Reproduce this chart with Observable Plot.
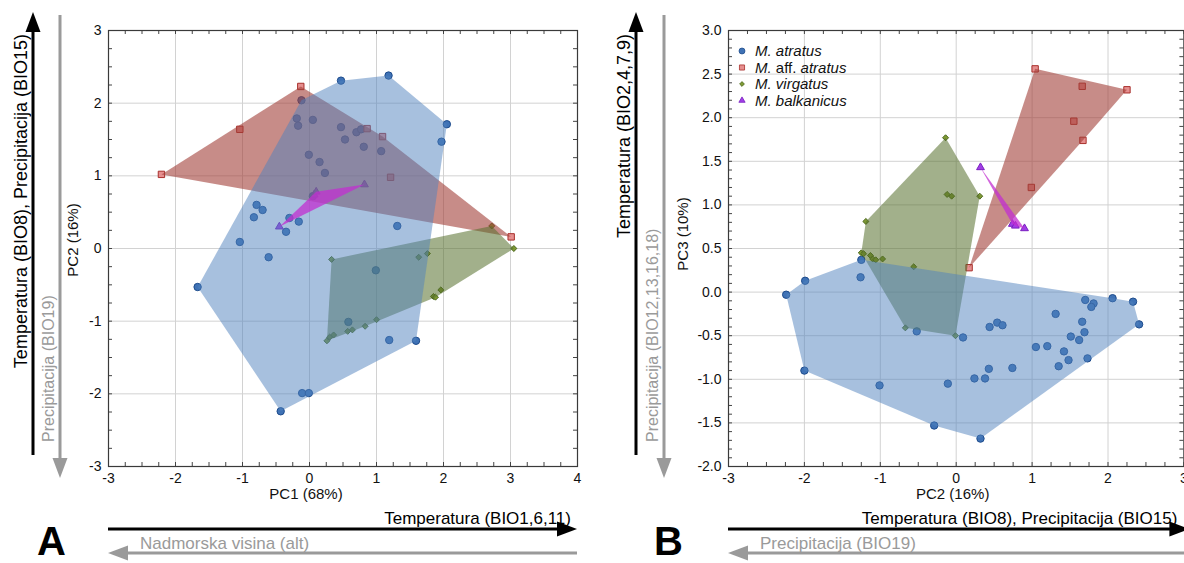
<!DOCTYPE html>
<html><head><meta charset="utf-8">
<script src="https://cdn.jsdelivr.net/npm/d3@7"></script>
<script src="https://cdn.jsdelivr.net/npm/@observablehq/plot@0.6"></script>
<style>
body{margin:0;background:#fff;overflow:hidden;font-family:"Liberation Sans",Arial,sans-serif}
#wrap{position:relative;width:1184px;height:563px;overflow:hidden;background:#fff}
#wrap > svg{position:absolute;top:0}
</style></head><body><div id="wrap"></div>
<script>
// ---------- data ----------
const speciesNames = ["M. atratus", "M. aff. atratus", "M. virgatus", "M. balkanicus"];

// Panel A: PC1 (x) vs PC2 (y)
const aAtratusX = [0.47,1.18,-0.12,-0.19,-0.17,0.05,0.47,0.53,0.70,0.77,0.81,1.07,2.05,1.97,-0.01,0.15,0.23,-0.79,-0.70,-0.83,-0.30,-0.16,-0.35,-1.04,1.31,-0.61,-1.67,0.99,0.58,1.19,1.59,-0.11,-0.01,-0.43,0.05];
const aAtratusY = [2.31,2.38,2.04,1.79,1.69,1.77,1.67,1.50,1.60,1.64,1.40,1.34,1.71,1.47,1.29,1.19,1.04,0.60,0.53,0.43,0.42,0.37,0.23,0.09,0.31,-0.12,-0.53,-0.30,-1.01,-1.26,-1.27,-1.99,-1.99,-2.24,0.72];
const aAffX = [-2.21,-1.04,-0.13,0.86,1.09,1.21,3.01];
const aAffY = [1.02,1.64,2.23,1.65,1.54,0.98,0.16];
const aVirgX = [0.33,1.63,1.76,2.72,3.05,1.96,1.85,1.88,1.00,0.83,0.64,0.57,0.36,0.30,0.26];
const aVirgY = [-0.15,-0.12,-0.07,0.31,0.00,-0.57,-0.66,-0.67,-0.98,-1.07,-1.12,-1.14,-1.19,-1.22,-1.27];
const aBalkX = [-0.45,0.07,0.10,0.82];
const aBalkY = [0.30,0.74,0.78,0.88];

// Panel B: PC2 (x) vs PC3 (y)
const bAtratusX = [-1.25,-1.26,-1.99,-2.24,-2.00,-1.01,-0.52,-0.29,-0.11,0.09,0.32,0.24,0.38,0.43,0.74,0.44,0.54,0.61,1.05,1.20,1.42,1.35,1.48,1.31,1.51,1.62,1.69,1.66,1.73,1.70,1.81,1.78,2.06,2.33,2.41];
const bAtratusY = [0.37,0.17,0.13,-0.03,-0.90,-1.07,-0.45,-1.53,-1.05,-0.52,-1.68,-0.99,-0.99,-0.88,-0.87,-0.40,-0.35,-0.38,-0.63,-0.62,-0.68,-0.85,-0.78,-0.25,-0.51,-0.55,-0.46,-0.34,-0.76,-0.09,-0.13,-0.17,-0.07,-0.11,-0.37];
const bAffX = [1.04,1.66,2.25,1.55,1.67,0.99,0.17];
const bAffY = [2.56,2.36,2.32,1.96,1.74,1.20,0.28];
const bVirgX = [-0.14,-0.12,-0.06,0.31,-1.19,-1.25,-1.22,-1.13,-1.10,-1.06,-0.97,-0.56,-0.67,-0.01];
const bVirgY = [1.77,1.12,1.10,1.10,0.81,0.45,0.44,0.42,0.38,0.37,0.38,0.29,-0.41,-0.50];
const bBalkX = [0.32,0.74,0.78,0.90];
const bBalkY = [1.43,0.78,0.76,0.73];

// tick values
const aXTicks = [-3,-2,-1,0,1,2,3,4];
const aYTicks = [-3,-2,-1,0,1,2,3];
const bXTicks = [-3,-2,-1,0,1,2,3];
const bYTicks = [-2,-1.5,-1,-0.5,0,0.5,1,1.5,2,2.5,3];

// ---------- styles ----------
const sty = [
  {symbol:"circle",   r:3.7, fill:"#3f72b5", stroke:"#1d4b8c", hull:"#4f81bd", op:0.5},
  {symbol:"square",   r:3.6, fill:"#e68f8f", stroke:"#a8302c", hull:"#a23f39", op:0.6},
  {symbol:"diamond2", r:2.7, fill:"#7f9a34", stroke:"#4a661a", hull:"#56702c", op:0.55},
  {symbol:"triangle", r:2.9, fill:"#a13ee6", stroke:"#7a1fc0", hull:"#c22fd0", op:0.75}
];
const rows = (xs, ys) => xs.map((x, i) => ({x, y: ys[i]}));

const H = 563, MT = 30, MB = 97;
const FONT = "'Liberation Sans', Arial, sans-serif";

function panel({width, ml, mr, xDomain, yDomain, xTicks, yTicks, xMinor, yMinor, yFmt, groups}) {
  const fw = width - ml - mr, fh = H - MT - MB;
  const hullOrder = [1, 2, 0, 3];
  const marks = [
    Plot.gridX(xTicks, {stroke:"#d2d2d2", strokeOpacity:1}),
    Plot.gridY(yTicks, {stroke:"#d2d2d2", strokeOpacity:1}),
  ];
  for (const k of [0,1,2,3]) {
    marks.push(Plot.dot(groups[k], {x:"x", y:"y", symbol: sty[k].symbol, r: sty[k].r, fill: sty[k].fill, stroke: sty[k].stroke, strokeWidth: 1}));
  }
  for (const k of hullOrder) {
    marks.push(Plot.hull(groups[k], {x:"x", y:"y", fill: sty[k].hull, fillOpacity: sty[k].op, stroke: "none"}));
  }
  marks.push(
    Plot.tickX(xMinor, {x: d => d, insetTop: fh - 4, stroke:"#444"}),
    Plot.tickX(xMinor, {x: d => d, insetBottom: fh - 4, stroke:"#444"}),
    Plot.tickY(yMinor, {y: d => d, insetRight: fw - 4, stroke:"#444"}),
    Plot.tickY(yMinor, {y: d => d, insetLeft: fw - 4, stroke:"#444"}),
    Plot.frame({stroke:"#3a3a3a", strokeWidth:1.2}),
    Plot.axisX(xTicks, {tickSize:0, tickPadding:7, tickFormat: d => String(d), label:null, fill:"#111"}),
    Plot.axisY(yTicks, {tickSize:0, tickPadding:7, tickFormat: yFmt, label:null, fill:"#111"})
  );
  const p = Plot.plot({
    width, height: H, marginLeft: ml, marginRight: mr, marginTop: MT, marginBottom: MB,
    x: {domain: xDomain, label: null},
    y: {domain: yDomain, label: null},
    style: {fontFamily: FONT, fontSize: "14px", color:"#111", background:"transparent", overflow:"visible"},
    marks
  });
  d3.select(p).selectAll("text").attr("font-size", 14).style("font-size", "14px");
  return p;
}

const plotA = panel({
  width: 592, ml: 108, mr: 15, xDomain: [-3,4], yDomain: [-3,3],
  xTicks: aXTicks, yTicks: aYTicks,
  xMinor: d3.range(-3, 4.001, 0.25), yMinor: d3.range(-3, 3.001, 0.25),
  yFmt: d => String(d),
  groups: [rows(aAtratusX,aAtratusY), rows(aAffX,aAffY), rows(aVirgX,aVirgY), rows(aBalkX,aBalkY)]
});
const plotB = panel({
  width: 600, ml: 136, mr: 8.6, xDomain: [-3,3], yDomain: [-2,3],
  xTicks: bXTicks, yTicks: bYTicks,
  xMinor: d3.range(-3, 3.001, 0.25), yMinor: d3.range(-2, 3.001, 0.1),
  yFmt: d => d.toFixed(1),
  groups: [rows(bAtratusX,bAtratusY), rows(bAffX,bAffY), rows(bVirgX,bVirgY), rows(bBalkX,bBalkY)]
});
const offA = 0, offB = 592;
const wrap = document.getElementById("wrap");
plotA.style.left = offA + "px";
plotB.style.left = offB + "px";
wrap.append(plotA, plotB);

// ---------- annotations (positions derived from the plot scales) ----------
const ov = d3.select("#wrap").append("svg").attr("width",1184).attr("height",563)
  .style("left","0px").style("font-family", FONT);

function arrow(x1, y1, x2, y2, color, w) {
  const dx = x2 - x1, dy = y2 - y1, L = Math.hypot(dx, dy), ux = dx / L, uy = dy / L;
  const hl = 20, hw = 7.5, bx = x2 - ux * hl, by = y2 - uy * hl;
  ov.append("line").attr("x1", x1).attr("y1", y1).attr("x2", bx + ux).attr("y2", by + uy)
    .attr("stroke", color).attr("stroke-width", w);
  ov.append("path").attr("d", `M${x2},${y2}L${bx - uy*hw},${by + ux*hw}L${bx + uy*hw},${by - ux*hw}Z`).attr("fill", color);
}
function vtext(x, y, str, anchor, color, size) {
  ov.append("text").attr("transform", `translate(${x},${y}) rotate(-90)`).attr("text-anchor", anchor)
    .attr("fill", color).attr("font-size", size).text(str);
}
function htext(x, y, str, anchor, color, size, weight) {
  ov.append("text").attr("x", x).attr("y", y).attr("text-anchor", anchor)
    .attr("fill", color).attr("font-size", size).attr("font-weight", weight || "normal").text(str);
}
const BLACK = "#000", GRAY = "#9a9a9a";

function annotate(plot, off, o) {
  const sx = plot.scale("x"), sy = plot.scale("y");
  const L = off + sx.apply(sx.domain[0]), R = off + sx.apply(sx.domain[1]);
  const T = sy.apply(sy.domain[1]), B = sy.apply(sy.domain[0]);
  // axis titles
  htext(off + sx.apply(0) - 3, B + 33, o.xTitle, "middle", "#111", 15);
  vtext(L - o.yTitleGap, (T + B) / 2 - o.yTitleUp, o.yTitle, "middle", "#111", 15);
  // vertical arrows
  arrow(L - o.blackGap, B - 11, L - o.blackGap, T - 18, BLACK, 3);
  arrow(L - o.grayGap, T - 15, L - o.grayGap, B + 12, GRAY, 3);
  vtext(L - o.blackGap - 6, T + 4, o.vBlack, "end", BLACK, 18);
  vtext(L - o.grayGap - 6, B - 24, o.vGray, "start", GRAY, 16);
  // horizontal arrows
  arrow(L, B + 63, R + o.hTipExtra, B + 63, BLACK, 3);
  arrow(R + o.hTipExtra, B + 87, L, B + 87, GRAY, 3);
  htext(R - 6, B + 58, o.hBlack, "end", BLACK, 17);
  htext(L + 32, B + 83, o.hGray, "start", GRAY, 17);
  // panel letter
  htext(L - o.letterGap, 555, o.letter, "start", BLACK, 40, "bold");
}
annotate(plotA, offA, {
  xTitle: "PC1 (68%)", yTitle: "PC2 (16%)", yTitleGap: 30, yTitleUp: 8,
  blackGap: 75, grayGap: 48, hTipExtra: 0, letterGap: 71, letter: "A",
  vBlack: "Temperatura (BIO8), Precipitacija (BIO15)", vGray: "Precipitacija (BIO19)",
  hBlack: "Temperatura (BIO1,6,11)", hGray: "Nadmorska visina (alt)"
});
annotate(plotB, offB, {
  xTitle: "PC2 (16%)", yTitle: "PC3 (10%)", yTitleGap: 40, yTitleUp: 14,
  blackGap: 92, grayGap: 64, hTipExtra: 6, letterGap: 74, letter: "B",
  vBlack: "Temperatura (BIO2,4,7,9)", vGray: "Precipitacija (BIO12,13,16,18)",
  hBlack: "Temperatura (BIO8), Precipitacija (BIO15)", hGray: "Precipitacija (BIO19)"
});

// ---------- legend (panel B, top-left inside frame) ----------
{
  const sx = plotB.scale("x"), sy = plotB.scale("y");
  const lx = offB + sx.apply(-3) + 14, ly0 = sy.apply(3) + 21;
  const symMap = {circle: d3.symbolCircle, square: d3.symbolSquare, diamond2: d3.symbolDiamond2, triangle: d3.symbolTriangle};
  speciesNames.forEach((name, i) => {
    const y = ly0 + i * 16.5;
    const r = sty[i].r * 0.8;
    ov.append("path").attr("transform", `translate(${lx},${y})`)
      .attr("d", d3.symbol(symMap[sty[i].symbol], Math.PI * r * r)())
      .attr("fill", sty[i].fill).attr("stroke", sty[i].stroke).attr("stroke-width", 0.8);
    const t = ov.append("text").attr("x", lx + 13).attr("y", y + 5).attr("font-size", 15).attr("fill", "#111");
    if (name.includes("aff.")) {
      t.append("tspan").attr("font-style", "italic").text("M.");
      t.append("tspan").text(" aff. ");
      t.append("tspan").attr("font-style", "italic").text("atratus");
    } else {
      t.attr("font-style", "italic").text(name);
    }
  });
}
</script></body></html>
